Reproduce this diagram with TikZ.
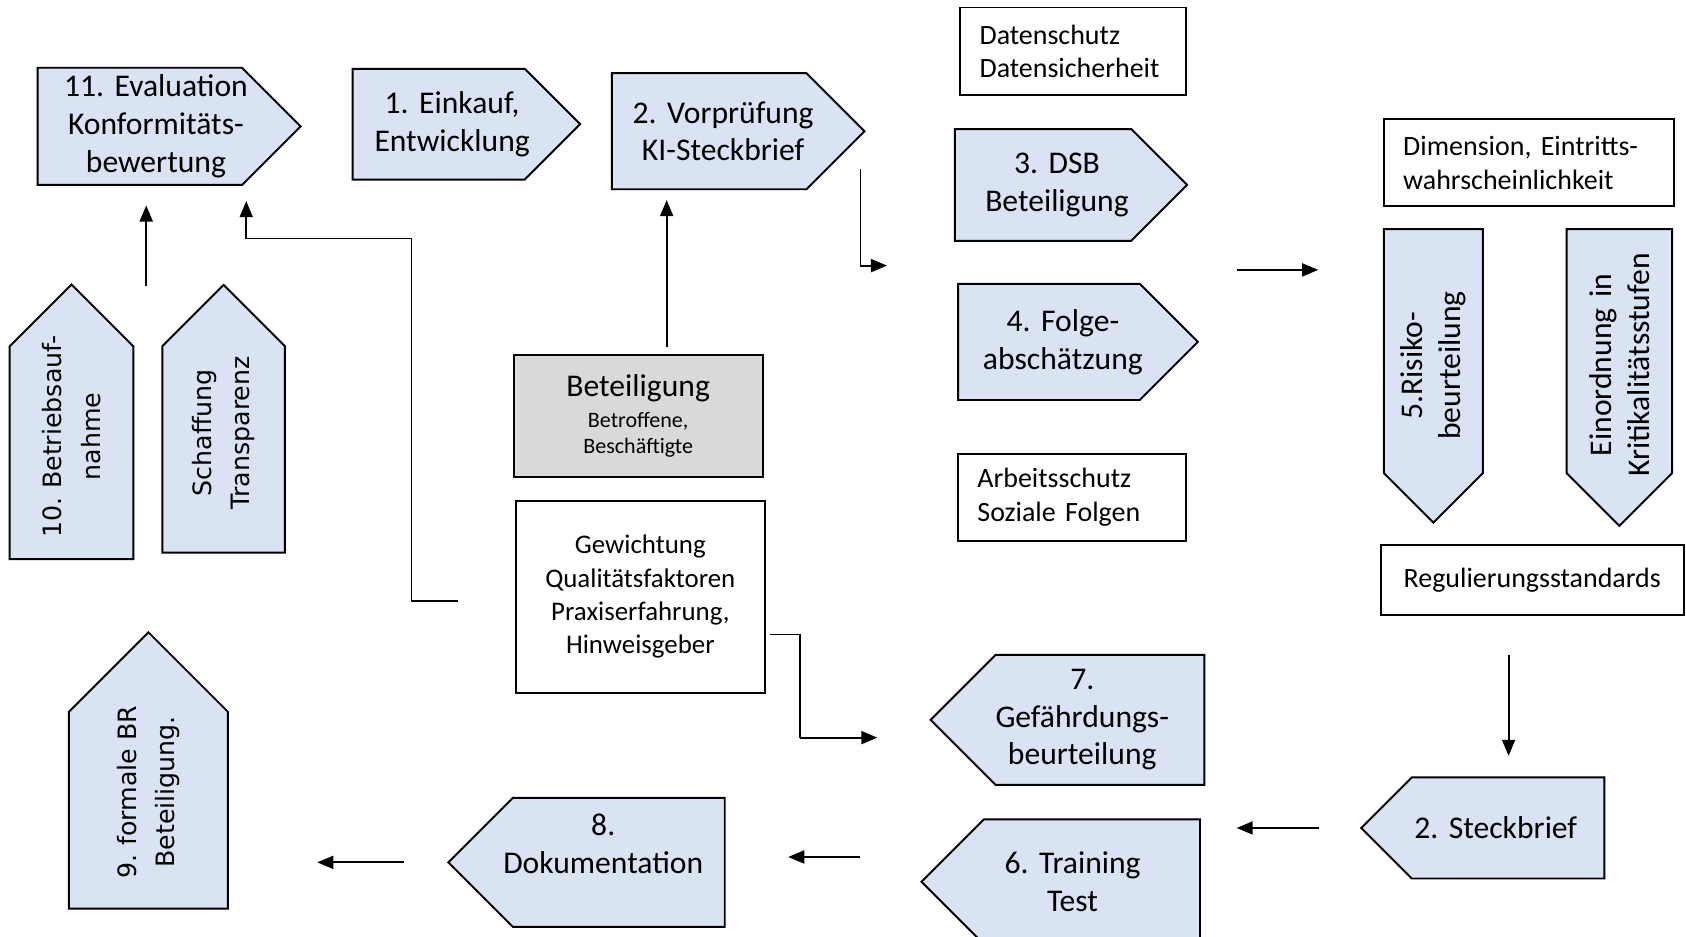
\documentclass[tikz,border=0pt]{standalone}
\usepackage{fontspec}
\setmainfont{Carlito}
\newfontfamily\sidefont{DejaVu Sans}
\usetikzlibrary{shapes.symbols}
\usetikzlibrary{arrows.meta}
\definecolor{boxblue}{HTML}{DAE3F3}
\definecolor{boxgray}{HTML}{D9D9D9}
\tikzset{>={Triangle[length=15pt,width=12pt]}}
\tikzset{
  stepbox/.style={signal, signal pointer angle=90, draw=black, line width=1.8pt,
    fill=boxblue, align=center, inner sep=0pt, font=\fontsize{29.4}{35}\selectfont},
  sidetext/.style={font=\sidefont\fontsize{23.5}{36}\selectfont},
  pushR/.style={execute at begin node={\leftskip=#1 plus 1fil\rightskip=-#1 plus 1fil\parfillskip=0pt}},
  pushL/.style={execute at begin node={\leftskip=-#1 plus 1fil\rightskip=#1 plus 1fil\parfillskip=0pt}},
  infobox/.style={draw=black, line width=1.8pt, fill=white, inner xsep=18pt,
    inner ysep=0pt, align=left, font=\fontsize{26}{31}\selectfont},
  arr/.style={->, line width=2pt},
  thinline/.style={line width=1.2pt}
}

\begin{document}
\frenchspacing
\begin{tikzpicture}[x=1pt,y=-1pt]
            \useasboundingbox (0,0) rectangle (1568,871);
            \clip (0,0) rectangle (1568,871);
            % obere Reihe
            \node[stepbox, signal to=east, pushR=15pt, text width=190pt, minimum height=109pt] (ev) at (130,117.5) {11. Evaluation\\Konformitäts-\\bewertung};
            \node[stepbox, signal to=east, pushR=12.5pt, text width=160pt, minimum height=103pt] (ek) at (408,115.5) {1. Einkauf,\\Entwicklung};
            \node[stepbox, signal to=east, pushR=13pt, text width=181pt, minimum height=108pt] (vp) at (659.5,122) {2. Vorprüfung\\KI-Steckbrief};
            \node[infobox, text width=174pt, minimum height=81pt] (ds) at (998,47.5) {Datenschutz\\Datensicherheit};
            \node[stepbox, signal to=east, pushR=13pt, text width=164pt, minimum height=104pt] (dsb) at (970,172) {3. DSB\\Beteiligung};
            \node[stepbox, signal to=east, pushR=13pt, text width=169pt, minimum height=108pt] (fa) at (975.5,318) {4. Folge-\\abschätzung};
            \node[infobox, text width=176pt, minimum height=81pt] (as) at (997,462.5) {Arbeitsschutz\\Soziale Folgen};
            % rechte Spalte
            \node[infobox, text width=234pt, minimum height=81pt] (dim) at (1422,151.5) {Dimension, Eintritts-\\wahrscheinlichkeit};
            \node[stepbox, signal to=west, rotate=90, pushL=13.5pt, text width=227pt, minimum height=92pt] (rb) at (1333,326.5) {5.Risiko-\\beurteilung};
            \node[stepbox, signal to=west, rotate=90, pushL=13pt, text width=227pt, minimum height=98pt] (ks) at (1506,326.5) {Einordnung in\\Kritikalitätsstufen};
            \node[infobox, align=center, inner xsep=0pt, minimum width=282pt, minimum height=65pt] (reg) at (1425,539.5) {Regulierungsstandards};
            % linke Spalte
            \node[stepbox, sidetext, signal to=east, rotate=90, pushR=15pt, text width=198pt, minimum height=115pt] (ba) at (66.5,421) {10. Betriebsauf-\\nahme};
            \node[stepbox, sidetext, signal to=east, rotate=90, pushR=15.5pt, text width=192pt, minimum height=114pt] (tr) at (208,418) {Schaffung\\Transparenz};
            \node[stepbox, sidetext, signal to=east, rotate=90, pushR=17pt, text width=183pt, minimum height=148pt] (br) at (138,753.5) {9. formale BR\\Beteiligung.};
            % Mitte
            \node[draw=black, line width=1.8pt, fill=boxgray, text width=225pt, minimum height=114pt, align=center, font=\fontsize{20.5}{24}\selectfont] (bet) at (593.5,387)
                {{\fontsize{29.4}{29}\selectfont Beteiligung\par}\vspace{5pt}Betroffene,\\Beschäftigte};
            \node[draw=black, line width=1.8pt, fill=white, text width=225pt, minimum height=179pt, align=center, font=\fontsize{25}{31}\selectfont] (gew) at (595.5,555)
                {Gewichtung\\Qualitätsfaktoren\\Praxiserfahrung,\\Hinweisgeber};
            % untere Reihe
            \node[stepbox, signal to=west, pushL=16.5pt, text width=194pt, minimum height=121pt] (gb) at (1023,669.5) {7.\\Gefährdungs-\\beurteilung};
            \node[stepbox, signal to=west, pushL=11.5pt, text width=179pt, minimum height=94pt] (sb) at (1402.5,770) {2. Steckbrief};
            \node[stepbox, signal to=west, pushL=18pt, text width=201pt, minimum height=116pt] (tt) at (1015.5,820) {6. Training\\Test};
            \node[stepbox, signal to=west, pushL=14.5pt, text width=197pt, minimum height=120pt] (dok) at (575.5,802) {8.\\Dokumentation\\\mbox{}};
            % Pfeile
            \coordinate (a1) at (136,266);
            \coordinate (a2) at (136,191);
            \draw[arr] (a1) -- (a2);
            \coordinate (b1) at (426,559);
            \coordinate (b2) at (383,222);
            \coordinate (b3) at (229,222);
            \coordinate (b4) at (229,187);
            \draw[thinline] (b1) -| (b2) -- (b3);
            \draw[arr] (b3) -- (b4);
            \coordinate (c1) at (620,323);
            \coordinate (c2) at (620,186);
            \draw[arr] (c1) -- (c2);
            \coordinate (d1) at (800,157);
            \coordinate (d2) at (800,247);
            \coordinate (d3) at (825,247);
            \draw[thinline] (d1) -- (d2);
            \draw[arr] (d2) -- (d3);
            \coordinate (e1) at (1150,251);
            \coordinate (e2) at (1226,251);
            \draw[arr] (e1) -- (e2);
            \coordinate (f1) at (1403,609);
            \coordinate (f2) at (1403,703);
            \draw[arr] (f1) -- (f2);
            \coordinate (g1) at (1227,770);
            \coordinate (g2) at (1150,770);
            \draw[arr] (g1) -- (g2);
            \coordinate (h1) at (800,797);
            \coordinate (h2) at (733,797);
            \draw[arr] (h1) -- (h2);
            \coordinate (i1) at (376,802);
            \coordinate (i2) at (295,802);
            \draw[arr] (i1) -- (i2);
            \coordinate (j1) at (716,590);
            \coordinate (j2) at (744,686);
            \coordinate (j3) at (816,686);
            \draw[thinline] (j1) -| (j2);
            \draw[arr] (j2) -- (j3);
        \end{tikzpicture}
\end{document}
